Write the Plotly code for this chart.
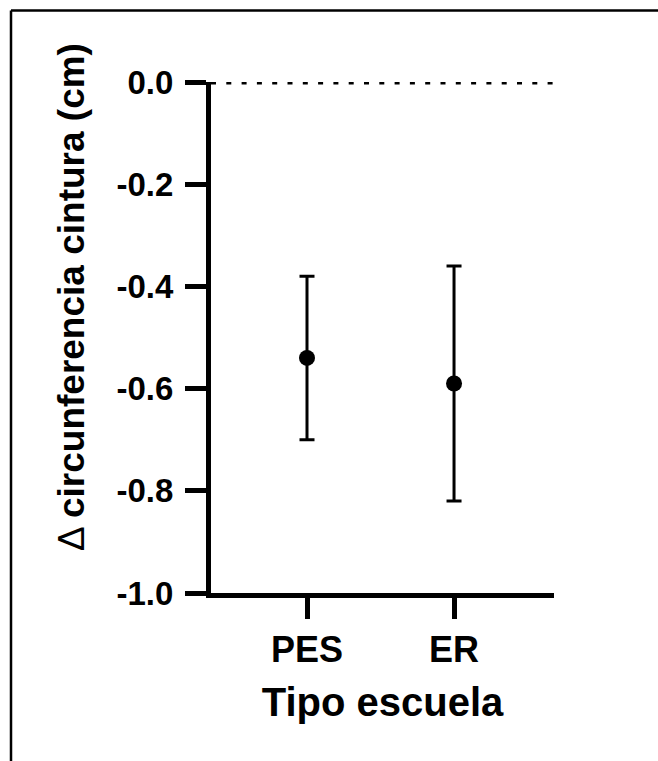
import plotly.graph_objects as go

# ---- data ----
categories = ["PES", "ER"]
means = [-0.54, -0.59]
errors = [0.16, 0.23]
y_tickvals = [0.0, -0.2, -0.4, -0.6, -0.8, -1.0]
y_ticktext = ["0.0", "-0.2", "-0.4", "-0.6", "-0.8", "-1.0"]
x_title = "Tipo escuela"
y_title = "Δ <b>circunferencia cintura (cm)</b>"

FONT = "Liberation Sans, Arial, sans-serif"

W, H = 658, 761
L, R, T, B = 211, 104, 82, 168

fig = go.Figure()
fig.add_trace(go.Scatter(
    x=categories, y=means,
    mode="markers",
    marker=dict(color="black", size=16, symbol="circle"),
    error_y=dict(type="data", array=errors, visible=True,
                 color="black", thickness=3, width=7.5),
    showlegend=False, cliponaxis=False,
))

# dotted reference line at y = 0
fig.add_shape(type="line", xref="x domain", yref="y", x0=0, x1=1, y0=0, y1=0,
              line=dict(color="black", width=5, dash="5px,10.3px"), layer="below")

pw = W - L - R
ph = H - T - B
# outer frame (top and left edges)
fig.add_shape(type="line", xref="paper", yref="paper",
              x0=(11 - L) / pw, x1=(W + 5 - L) / pw,
              y0=(H - B - 10.5) / ph, y1=(H - B - 10.5) / ph,
              line=dict(color="black", width=2.5))
fig.add_shape(type="line", xref="paper", yref="paper",
              x0=(11 - L) / pw, x1=(11 - L) / pw,
              y0=(H - B - 10.5) / ph, y1=(H - B - H - 5) / ph,
              line=dict(color="black", width=2.5))

# y title as rotated annotation
fig.add_annotation(text=y_title, xref="paper", yref="paper",
                   x=(71 - L) / pw, y=(H - B - 297) / ph,
                   xanchor="center", yanchor="middle", textangle=-90,
                   showarrow=False,
                   font=dict(family=FONT, size=37, color="black"))

fig.update_layout(
    width=W, height=H,
    margin=dict(l=L, r=R, t=T, b=B, pad=0),
    paper_bgcolor="white", plot_bgcolor="white",
    font=dict(family=FONT, color="black"),
    xaxis=dict(
        type="category", range=[-0.653, 1.680],
        showgrid=False, zeroline=False,
        showline=True, linecolor="black", linewidth=5,
        ticks="outside", ticklen=21, tickwidth=5, tickcolor="black",
        tickfont=dict(family=FONT, size=36, color="black", weight="bold"),
        title=dict(text=x_title, standoff=20,
                   font=dict(family=FONT, size=40, color="black", weight="bold")),
    ),
    yaxis=dict(
        range=[-1.0, 0.0],
        tickvals=y_tickvals, ticktext=y_ticktext,
        showgrid=False, zeroline=False,
        showline=True, linecolor="black", linewidth=5,
        ticks="outside", ticklen=21, tickwidth=5, tickcolor="black",
        ticklabelstandoff=5,
        tickfont=dict(family=FONT, size=33, color="black", weight="bold"),
    ),
)

fig.write_html("out.html")
